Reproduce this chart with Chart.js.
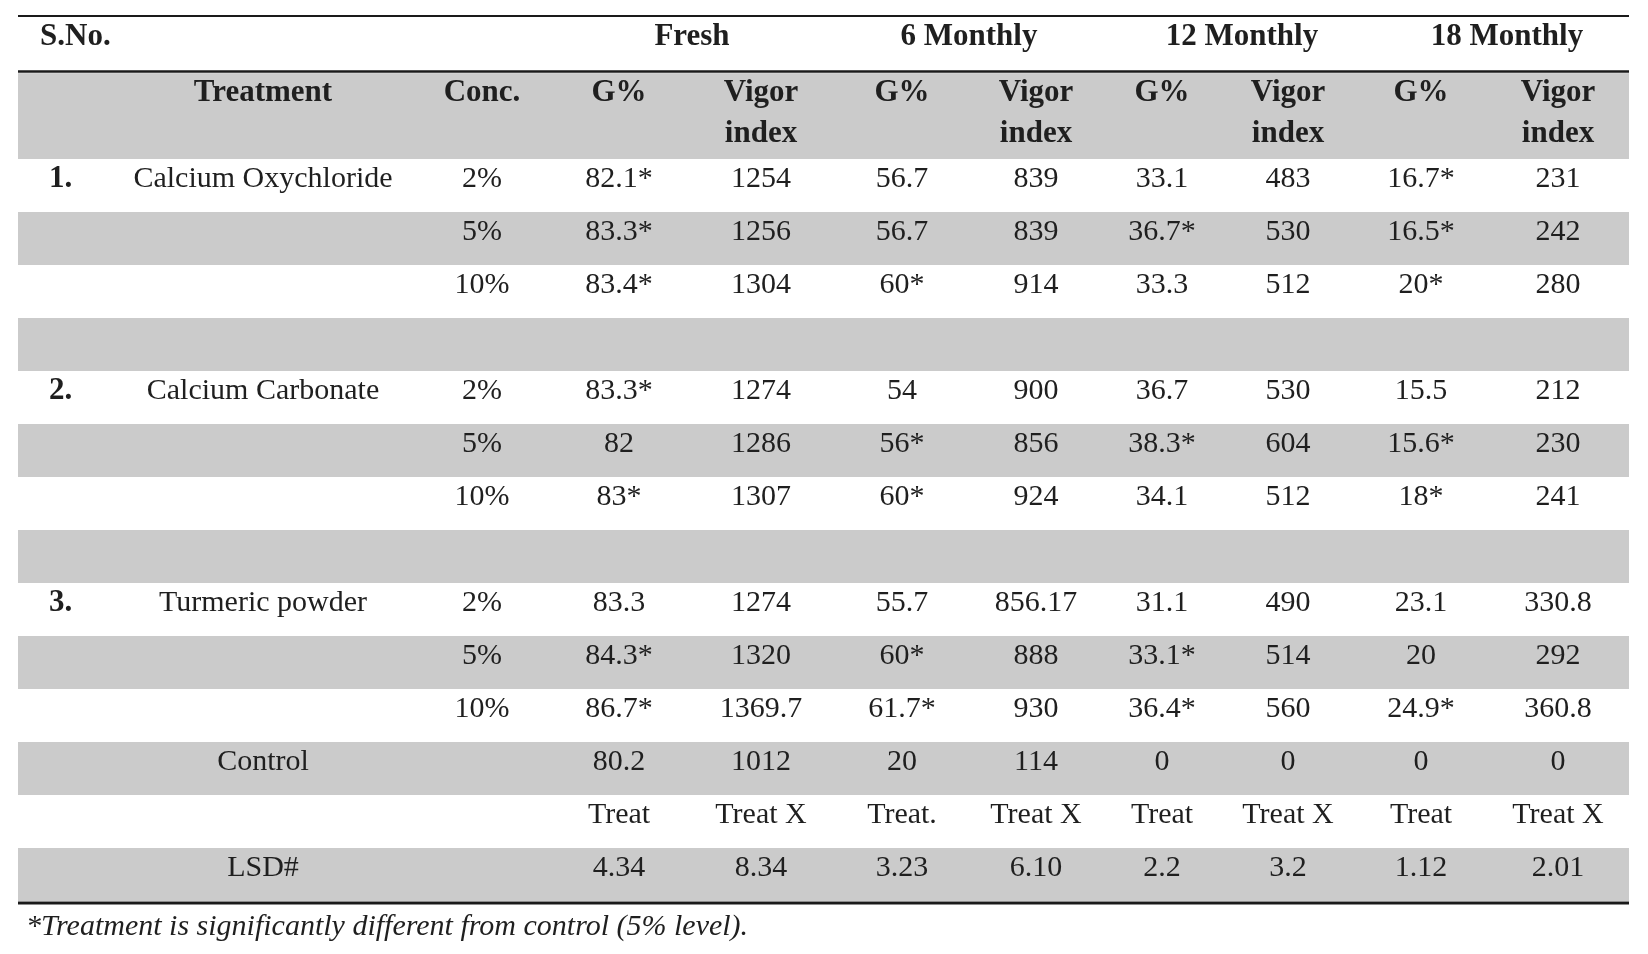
<!DOCTYPE html>
<html>
<head>
<meta charset="utf-8">
<script src="https://cdn.jsdelivr.net/npm/chart.js@4.4.1/dist/chart.umd.min.js"></script>
<style>
  html, body { margin: 0; padding: 0; background: #fff; }
  #wrap { width: 1648px; height: 954px; }
</style>
</head>
<body>
<div id="wrap"><canvas id="seed-table"></canvas></div>
<script>
// row / column labels
const treatments = ['Calcium Oxychloride', 'Calcium Carbonate', 'Turmeric powder'];
const concentrations = ['2%', '5%', '10%'];
const periods = ['Fresh', '6 Monthly', '12 Monthly', '18 Monthly'];
const subHeads = ['G%', 'Vigor index'];

// values: 9 treated rows (3 treatments x 3 conc.) then Control
const gFresh = [82.1, 83.3, 83.4, 83.3, 82, 83, 83.3, 84.3, 86.7, 80.2];
const vFresh = [1254, 1256, 1304, 1274, 1286, 1307, 1274, 1320, 1369.7, 1012];
const g6 = [56.7, 56.7, 60, 54, 56, 60, 55.7, 60, 61.7, 20];
const v6 = [839, 839, 914, 900, 856, 924, 856.17, 888, 930, 114];
const g12 = [33.1, 36.7, 33.3, 36.7, 38.3, 34.1, 31.1, 33.1, 36.4, 0];
const v12 = [483, 530, 512, 530, 604, 512, 490, 514, 560, 0];
const g18 = [16.7, 16.5, 20, 15.5, 15.6, 18, 23.1, 20, 24.9, 0];
const v18 = [231, 242, 280, 212, 230, 241, 330.8, 292, 360.8, 0];

// significance marks (*) on the G% columns
const sigFresh = [1, 1, 1, 1, 0, 1, 0, 1, 1, 0];
const sig6 = [0, 0, 1, 0, 1, 1, 0, 1, 1, 0];
const sig12 = [0, 1, 0, 0, 1, 0, 0, 1, 1, 0];
const sig18 = [1, 1, 1, 0, 1, 1, 0, 0, 1, 0];

// LSD row
const lsdLabels = ['Treat', 'Treat X', 'Treat.', 'Treat X', 'Treat', 'Treat X', 'Treat', 'Treat X'];
const lsdValues = ['4.34', '8.34', '3.23', '6.10', '2.2', '3.2', '1.12', '2.01'];

const footnote = '*Treatment is significantly different from control (5% level).';

// ---- layout (scale units) ----
const FONT = '"Liberation Serif", "DejaVu Serif", serif';
const SIZE = 30, HEAD_SIZE = 31;
const tableLeft = 18, tableRight = 1629;
const snoX = 49, snoHeadX = 40, treatX = 263, concX = 482;
const dataX = [619, 761, 902, 1036, 1162, 1288, 1421, 1558];
const periodX = [692, 969, 1242, 1507];

// build the body rows from the arrays
const columns = [[gFresh, sigFresh], [vFresh], [g6, sig6], [v6], [g12, sig12], [v12], [g18, sig18], [v18]];
function cells(k) {
  return columns.map(c => String(c[0][k]) + (c[1] && c[1][k] ? '*' : ''));
}
const rows = [];
treatments.forEach((t, i) => {
  concentrations.forEach((c, j) => {
    const k = i * 3 + j;
    rows.push({ no: j === 0 ? (i + 1) + '.' : '', treat: j === 0 ? t : '', conc: c, cells: cells(k) });
  });
  if (i < treatments.length - 1) rows.push({ no: '', treat: '', conc: '', cells: [] });
});
rows.push({ no: '', treat: 'Control', conc: '', cells: cells(9) });
rows.push({ no: '', treat: '', conc: '', cells: lsdLabels });
rows.push({ no: '', treat: 'LSD#', conc: '', cells: lsdValues });

const tablePlugin = {
  id: 'tablePlugin',
  beforeDraw(chart) {
    const ctx = chart.ctx, xs = chart.scales.x, ys = chart.scales.y;
    const X = v => xs.getPixelForValue(v), Y = v => ys.getPixelForValue(v);
    ctx.save();
    ctx.fillStyle = '#fff';
    ctx.fillRect(0, 0, chart.width, chart.height);
    // grey bands
    ctx.fillStyle = '#cbcbcb';
    ctx.fillRect(X(tableLeft), Y(-1.62), X(tableRight) - X(tableLeft), Y(0) - Y(-1.62));
    rows.forEach((r, i) => {
      if (i % 2 === 1) ctx.fillRect(X(tableLeft), Y(i), X(tableRight) - X(tableLeft), Y(i + 1) - Y(i));
    });
    // rules
    ctx.strokeStyle = '#1a1a1a';
    [[-2.70, 2], [-1.65, 2.5], [14.04, 3]].forEach(([v, w]) => {
      ctx.lineWidth = w;
      ctx.beginPath();
      ctx.moveTo(X(tableLeft), Y(v));
      ctx.lineTo(X(tableRight), Y(v));
      ctx.stroke();
    });
    ctx.restore();
  },
  afterDraw(chart) {
    const ctx = chart.ctx, xs = chart.scales.x, ys = chart.scales.y;
    const X = v => xs.getPixelForValue(v), Y = v => ys.getPixelForValue(v);
    ctx.save();
    ctx.fillStyle = '#1f1f1f';
    ctx.textBaseline = 'middle';
    const put = (txt, x, y, align, weight, style) => {
      const size = weight === 'bold' ? HEAD_SIZE : SIZE;
      ctx.font = (style || '') + ' ' + (weight || '') + ' ' + size + 'px ' + FONT;
      ctx.textAlign = align;
      ctx.fillText(txt, X(x), Y(y));
    };
    // header
    put('S.No.', snoHeadX, -2.30, 'left', 'bold');
    periods.forEach((p, i) => put(p, periodX[i], -2.30, 'center', 'bold'));
    put('Treatment', treatX, -1.245, 'center', 'bold');
    put('Conc.', concX, -1.245, 'center', 'bold');
    dataX.forEach((x, i) => {
      const parts = subHeads[i % 2].split(' ');
      put(parts[0], x, -1.245, 'center', 'bold');
      if (parts[1]) put(parts[1], x, -0.47, 'center', 'bold');
    });
    // body
    rows.forEach((r, i) => {
      const y = i + 0.38;
      if (r.no) put(r.no, snoX, y, 'left', 'bold');
      if (r.treat) put(r.treat, treatX, y, 'center');
      if (r.conc) put(r.conc, concX, y, 'center');
      r.cells.forEach((c, j) => put(c, dataX[j], y, 'center'));
    });
    put(footnote, 26, 14.49, 'left', '', 'italic');
    ctx.restore();
  }
};

new Chart(document.getElementById('seed-table').getContext('2d'), {
  type: 'scatter',
  data: { datasets: [] },
  options: {
    responsive: true,
    maintainAspectRatio: false,
    animation: false,
    devicePixelRatio: 1,
    layout: { padding: 0 },
    plugins: { legend: { display: false }, tooltip: { enabled: false } },
    scales: {
      x: { type: 'linear', min: 0, max: 1648, display: false },
      y: { type: 'linear', min: -3, max: 15, reverse: true, display: false }
    }
  },
  plugins: [tablePlugin]
});
</script>
</body>
</html>
